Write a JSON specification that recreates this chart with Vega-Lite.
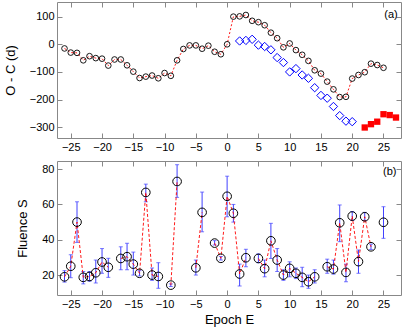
{
  "$schema": "https://vega.github.io/schema/vega-lite/v6.json",
  "padding": {"left": 3, "top": 1, "right": 6, "bottom": 4},
  "spacing": 7,
  "config": {
    "font": "Liberation Sans",
    "view": {"stroke": "#888888", "strokeWidth": 1},
    "axis": {
      "grid": false,
      "domain": false,
      "tickSize": -5,
      "tickColor": "#888888",
      "labelFont": "Liberation Sans",
      "labelFontSize": 11,
      "labelColor": "#000000",
      "labelPadding": 8,
      "titleFont": "Liberation Sans",
      "titleFontSize": 13,
      "titleFontWeight": "normal",
      "titleColor": "#000000"
    }
  },
  "datasets": {
    "oc": [
      {"E": -26, "OC": -15, "s": "c"}, {"E": -25, "OC": -30, "s": "c"}, {"E": -24, "OC": -31, "s": "c"},
      {"E": -23, "OC": -58, "s": "c"}, {"E": -22, "OC": -43, "s": "c"}, {"E": -21, "OC": -50, "s": "c"},
      {"E": -20, "OC": -52, "s": "c"}, {"E": -19, "OC": -77, "s": "c"}, {"E": -18, "OC": -55, "s": "c"},
      {"E": -17, "OC": -55, "s": "c"}, {"E": -16, "OC": -76, "s": "c"}, {"E": -15, "OC": -99, "s": "c"},
      {"E": -14, "OC": -122, "s": "c"}, {"E": -13, "OC": -117, "s": "c"}, {"E": -12, "OC": -113, "s": "c"},
      {"E": -11, "OC": -123, "s": "c"}, {"E": -10, "OC": -104, "s": "c"}, {"E": -9, "OC": -114, "s": "c"},
      {"E": -8, "OC": -58, "s": "c"}, {"E": -7, "OC": -17, "s": "c"}, {"E": -6, "OC": -4, "s": "c"},
      {"E": -5, "OC": -4, "s": "c"}, {"E": -4, "OC": -16, "s": "c"}, {"E": -3, "OC": -5, "s": "c"},
      {"E": -2, "OC": -27, "s": "c"}, {"E": -1, "OC": -36, "s": "c"}, {"E": 0, "OC": 0, "s": "c"},
      {"E": 1, "OC": 100, "s": "c"}, {"E": 2, "OC": 101, "s": "c"}, {"E": 3, "OC": 106, "s": "c"},
      {"E": 4, "OC": 85, "s": "c"}, {"E": 5, "OC": 80, "s": "c"}, {"E": 6, "OC": 69, "s": "c"},
      {"E": 7, "OC": 42, "s": "c"}, {"E": 8, "OC": 22, "s": "c"}, {"E": 9, "OC": -11, "s": "c"},
      {"E": 10, "OC": 3, "s": "c"}, {"E": 11, "OC": -21, "s": "c"}, {"E": 12, "OC": -38, "s": "c"},
      {"E": 13, "OC": -60, "s": "c"}, {"E": 14, "OC": -94, "s": "c"}, {"E": 15, "OC": -106, "s": "c"},
      {"E": 16, "OC": -135, "s": "c"}, {"E": 17, "OC": -163, "s": "c"}, {"E": 18, "OC": -191, "s": "c"},
      {"E": 19, "OC": -190, "s": "c"}, {"E": 20, "OC": -124, "s": "c"}, {"E": 21, "OC": -111, "s": "c"},
      {"E": 22, "OC": -101, "s": "c"}, {"E": 23, "OC": -70, "s": "c"}, {"E": 24, "OC": -75, "s": "c"},
      {"E": 25, "OC": -85, "s": "c"},
      {"E": 2, "OC": 12, "s": "d"}, {"E": 3, "OC": 14, "s": "d"}, {"E": 4, "OC": 18, "s": "d"},
      {"E": 5, "OC": -3, "s": "d"}, {"E": 6, "OC": -8, "s": "d"}, {"E": 7, "OC": -20, "s": "d"},
      {"E": 8, "OC": -48, "s": "d"}, {"E": 9, "OC": -66, "s": "d"}, {"E": 10, "OC": -100, "s": "d"},
      {"E": 11, "OC": -88, "s": "d"}, {"E": 12, "OC": -111, "s": "d"}, {"E": 13, "OC": -123, "s": "d"},
      {"E": 14, "OC": -157, "s": "d"}, {"E": 15, "OC": -185, "s": "d"}, {"E": 16, "OC": -195, "s": "d"},
      {"E": 17, "OC": -225, "s": "d"}, {"E": 18, "OC": -258, "s": "d"}, {"E": 19, "OC": -278, "s": "d"},
      {"E": 20, "OC": -280, "s": "d"},
      {"E": 22, "OC": -301, "s": "q"}, {"E": 23, "OC": -289, "s": "q"}, {"E": 24, "OC": -280, "s": "q"},
      {"E": 25, "OC": -253, "s": "q"}, {"E": 26, "OC": -256, "s": "q"}, {"E": 27, "OC": -265, "s": "q"}
    ],
    "labA": [{"E": 26.2, "OC": 106, "label": "(a)"}],
    "flu": [
      {"E": -26, "S": 19, "lo": 16, "hi": 22.5, "seg": "a"},
      {"E": -25, "S": 25, "lo": 18.5, "hi": 31.5, "seg": "a"},
      {"E": -24, "S": 50, "lo": 38.5, "hi": 61.5, "seg": "a"},
      {"E": -23, "S": 18.7, "lo": 15, "hi": 22, "seg": "a"},
      {"E": -22, "S": 19.2, "lo": 16.5, "hi": 22, "seg": "a"},
      {"E": -21, "S": 21.3, "lo": 15.5, "hi": 28.5, "seg": "a"},
      {"E": -20, "S": 27.4, "lo": 21, "hi": 35, "seg": "a"},
      {"E": -19, "S": 24.4, "lo": 18.7, "hi": 29.5, "seg": "a"},
      {"E": -17, "S": 29.4, "lo": 23, "hi": 36, "seg": "b"},
      {"E": -16, "S": 30.4, "lo": 23, "hi": 38, "seg": "b"},
      {"E": -15, "S": 26.2, "lo": 20, "hi": 33, "seg": "b"},
      {"E": -14, "S": 21, "lo": 19.5, "hi": 22.5, "seg": "b"},
      {"E": -13, "S": 66.8, "lo": 61.5, "hi": 71.5, "seg": "b"},
      {"E": -12, "S": 20, "lo": 17, "hi": 24, "seg": "b"},
      {"E": -11, "S": 19.2, "lo": 12.5, "hi": 27, "seg": "b"},
      {"E": -9, "S": 14.3, "lo": 13.5, "hi": 15, "seg": "c"},
      {"E": -8, "S": 73, "lo": 64, "hi": 82.5, "seg": "c"},
      {"E": -5, "S": 24.1, "lo": 20, "hi": 28.5, "seg": "d"},
      {"E": -4, "S": 55.5, "lo": 44.5, "hi": 67, "seg": "d"},
      {"E": -2, "S": 38.1, "lo": 37, "hi": 39.5, "seg": "e"},
      {"E": -1, "S": 29.5, "lo": 28.5, "hi": 30.5, "seg": "e"},
      {"E": 0, "S": 64.6, "lo": 53, "hi": 76, "seg": "e"},
      {"E": 1, "S": 55, "lo": 50, "hi": 60, "seg": "e"},
      {"E": 2, "S": 20.6, "lo": 13.8, "hi": 26.2, "seg": "e"},
      {"E": 3, "S": 29.8, "lo": 24.7, "hi": 34.6, "seg": "e"},
      {"E": 5, "S": 29.4, "lo": 27, "hi": 32, "seg": "f"},
      {"E": 6, "S": 23.6, "lo": 19, "hi": 28.5, "seg": "f"},
      {"E": 7, "S": 39.4, "lo": 29.4, "hi": 49.3, "seg": "f"},
      {"E": 8, "S": 28.5, "lo": 22, "hi": 35, "seg": "f"},
      {"E": 9, "S": 20, "lo": 17, "hi": 23, "seg": "f"},
      {"E": 10, "S": 23.8, "lo": 19, "hi": 27.5, "seg": "f"},
      {"E": 11, "S": 21, "lo": 18, "hi": 24, "seg": "f"},
      {"E": 12, "S": 18.7, "lo": 13.4, "hi": 24.4, "seg": "f"},
      {"E": 13, "S": 16.2, "lo": 12.5, "hi": 20, "seg": "f"},
      {"E": 14, "S": 19, "lo": 15.5, "hi": 23, "seg": "f"},
      {"E": 16, "S": 24.7, "lo": 21, "hi": 29, "seg": "g"},
      {"E": 17, "S": 23.4, "lo": 20.5, "hi": 28.5, "seg": "g"},
      {"E": 18, "S": 49.6, "lo": 38.9, "hi": 59.7, "seg": "g"},
      {"E": 19, "S": 21.5, "lo": 16.2, "hi": 26.2, "seg": "g"},
      {"E": 20, "S": 53.4, "lo": 51, "hi": 56, "seg": "g"},
      {"E": 21, "S": 27.6, "lo": 21, "hi": 34.2, "seg": "g"},
      {"E": 22, "S": 53, "lo": 51, "hi": 55.5, "seg": "g"},
      {"E": 23, "S": 36, "lo": 34.5, "hi": 37.5, "seg": "g"},
      {"E": 25, "S": 49.9, "lo": 40.8, "hi": 58.7, "seg": "h"}
    ],
    "labB": [{"E": 26, "S": 78.4, "label": "(b)"}]
  },
  "vconcat": [
    {
      "width": 344,
      "height": 136,
      "data": {"name": "oc"},
      "resolve": {"axis": {"x": "independent", "y": "independent"}},
      "layer": [
        {
          "encoding": {
            "x": {"field": "E", "type": "quantitative", "scale": {"domain": [-27.2, 27.8], "nice": false, "zero": false},
                  "axis": {"values": [-25, -20, -15, -10, -5, 0, 5, 10, 15, 20, 25], "title": null}},
            "y": {"field": "OC", "type": "quantitative", "scale": {"domain": [-339, 153], "nice": false, "zero": false},
                  "axis": {"values": [-300, -200, -100, 0, 100], "title": "O - C  (d)", "titlePadding": 12}}
          },
          "layer": [
            {"transform": [{"filter": "datum.s == 'c'"}], "mark": {"type": "line", "color": "#ff0000", "strokeWidth": 0.9, "strokeDash": [2, 2]}},
            {"transform": [{"filter": "datum.s == 'c'"}], "mark": {"type": "point", "shape": "circle", "size": 32, "filled": false, "stroke": "#000000", "strokeWidth": 0.9, "opacity": 1}},
            {"transform": [{"filter": "datum.s == 'd'"}], "mark": {"type": "point", "shape": "diamond", "size": 70, "filled": false, "stroke": "#0000ff", "strokeWidth": 1, "opacity": 1}},
            {"transform": [{"filter": "datum.s == 'q'"}], "mark": {"type": "point", "shape": "square", "size": 40, "filled": true, "color": "#ff0000", "opacity": 1}},
            {"data": {"name": "labA"}, "mark": {"type": "text", "fontSize": 11, "font": "Liberation Sans", "color": "#000000"}, "encoding": {"text": {"field": "label"}}}
          ]
        },
        {
          "mark": {"type": "point", "opacity": 0},
          "encoding": {
            "x": {"field": "E", "type": "quantitative", "scale": {"domain": [-27.2, 27.8], "nice": false, "zero": false},
                  "axis": {"orient": "top", "values": [-25, -20, -15, -10, -5, 0, 5, 10, 15, 20, 25], "labels": false, "title": null}},
            "y": {"field": "OC", "type": "quantitative", "scale": {"domain": [-339, 153], "nice": false, "zero": false},
                  "axis": {"orient": "right", "values": [-300, -200, -100, 0, 100], "labels": false, "title": null}}
          }
        }
      ]
    },
    {
      "width": 344,
      "height": 134,
      "data": {"name": "flu"},
      "resolve": {"axis": {"x": "independent", "y": "independent"}},
      "layer": [
        {
          "encoding": {
            "x": {"field": "E", "type": "quantitative", "scale": {"domain": [-27.2, 27.8], "nice": false, "zero": false},
                  "axis": {"values": [-25, -20, -15, -10, -5, 0, 5, 10, 15, 20, 25], "title": "Epoch E", "titlePadding": 4}}
          },
          "layer": [
            {"mark": {"type": "errorbar", "ticks": {"size": 4}, "color": "#4040ff"},
             "encoding": {"y": {"field": "lo", "type": "quantitative", "scale": {"domain": [8.7, 84.6], "nice": false, "zero": false},
                                "axis": {"values": [20, 40, 60, 80], "title": "Fluence S", "titlePadding": 12}},
                          "y2": {"field": "hi"}}},
            {"mark": {"type": "line", "color": "#ff0000", "strokeWidth": 0.9, "strokeDash": [3, 2]},
             "encoding": {"y": {"field": "S", "type": "quantitative", "scale": {"domain": [8.7, 84.6], "nice": false, "zero": false}}, "detail": {"field": "seg"}}},
            {"mark": {"type": "point", "shape": "circle", "size": 75, "filled": false, "stroke": "#000000", "strokeWidth": 1, "opacity": 1},
             "encoding": {"y": {"field": "S", "type": "quantitative", "scale": {"domain": [8.7, 84.6], "nice": false, "zero": false}}}},
            {"data": {"name": "labB"}, "mark": {"type": "text", "fontSize": 11, "font": "Liberation Sans", "color": "#000000"},
             "encoding": {"y": {"field": "S", "type": "quantitative", "scale": {"domain": [8.7, 84.6], "nice": false, "zero": false}}, "text": {"field": "label"}}}
          ]
        },
        {
          "mark": {"type": "point", "opacity": 0},
          "encoding": {
            "x": {"field": "E", "type": "quantitative", "scale": {"domain": [-27.2, 27.8], "nice": false, "zero": false},
                  "axis": {"orient": "top", "values": [-25, -20, -15, -10, -5, 0, 5, 10, 15, 20, 25], "labels": false, "title": null}},
            "y": {"field": "S", "type": "quantitative", "scale": {"domain": [8.7, 84.6], "nice": false, "zero": false},
                  "axis": {"orient": "right", "values": [20, 40, 60, 80], "labels": false, "title": null}}
          }
        }
      ]
    }
  ]
}
